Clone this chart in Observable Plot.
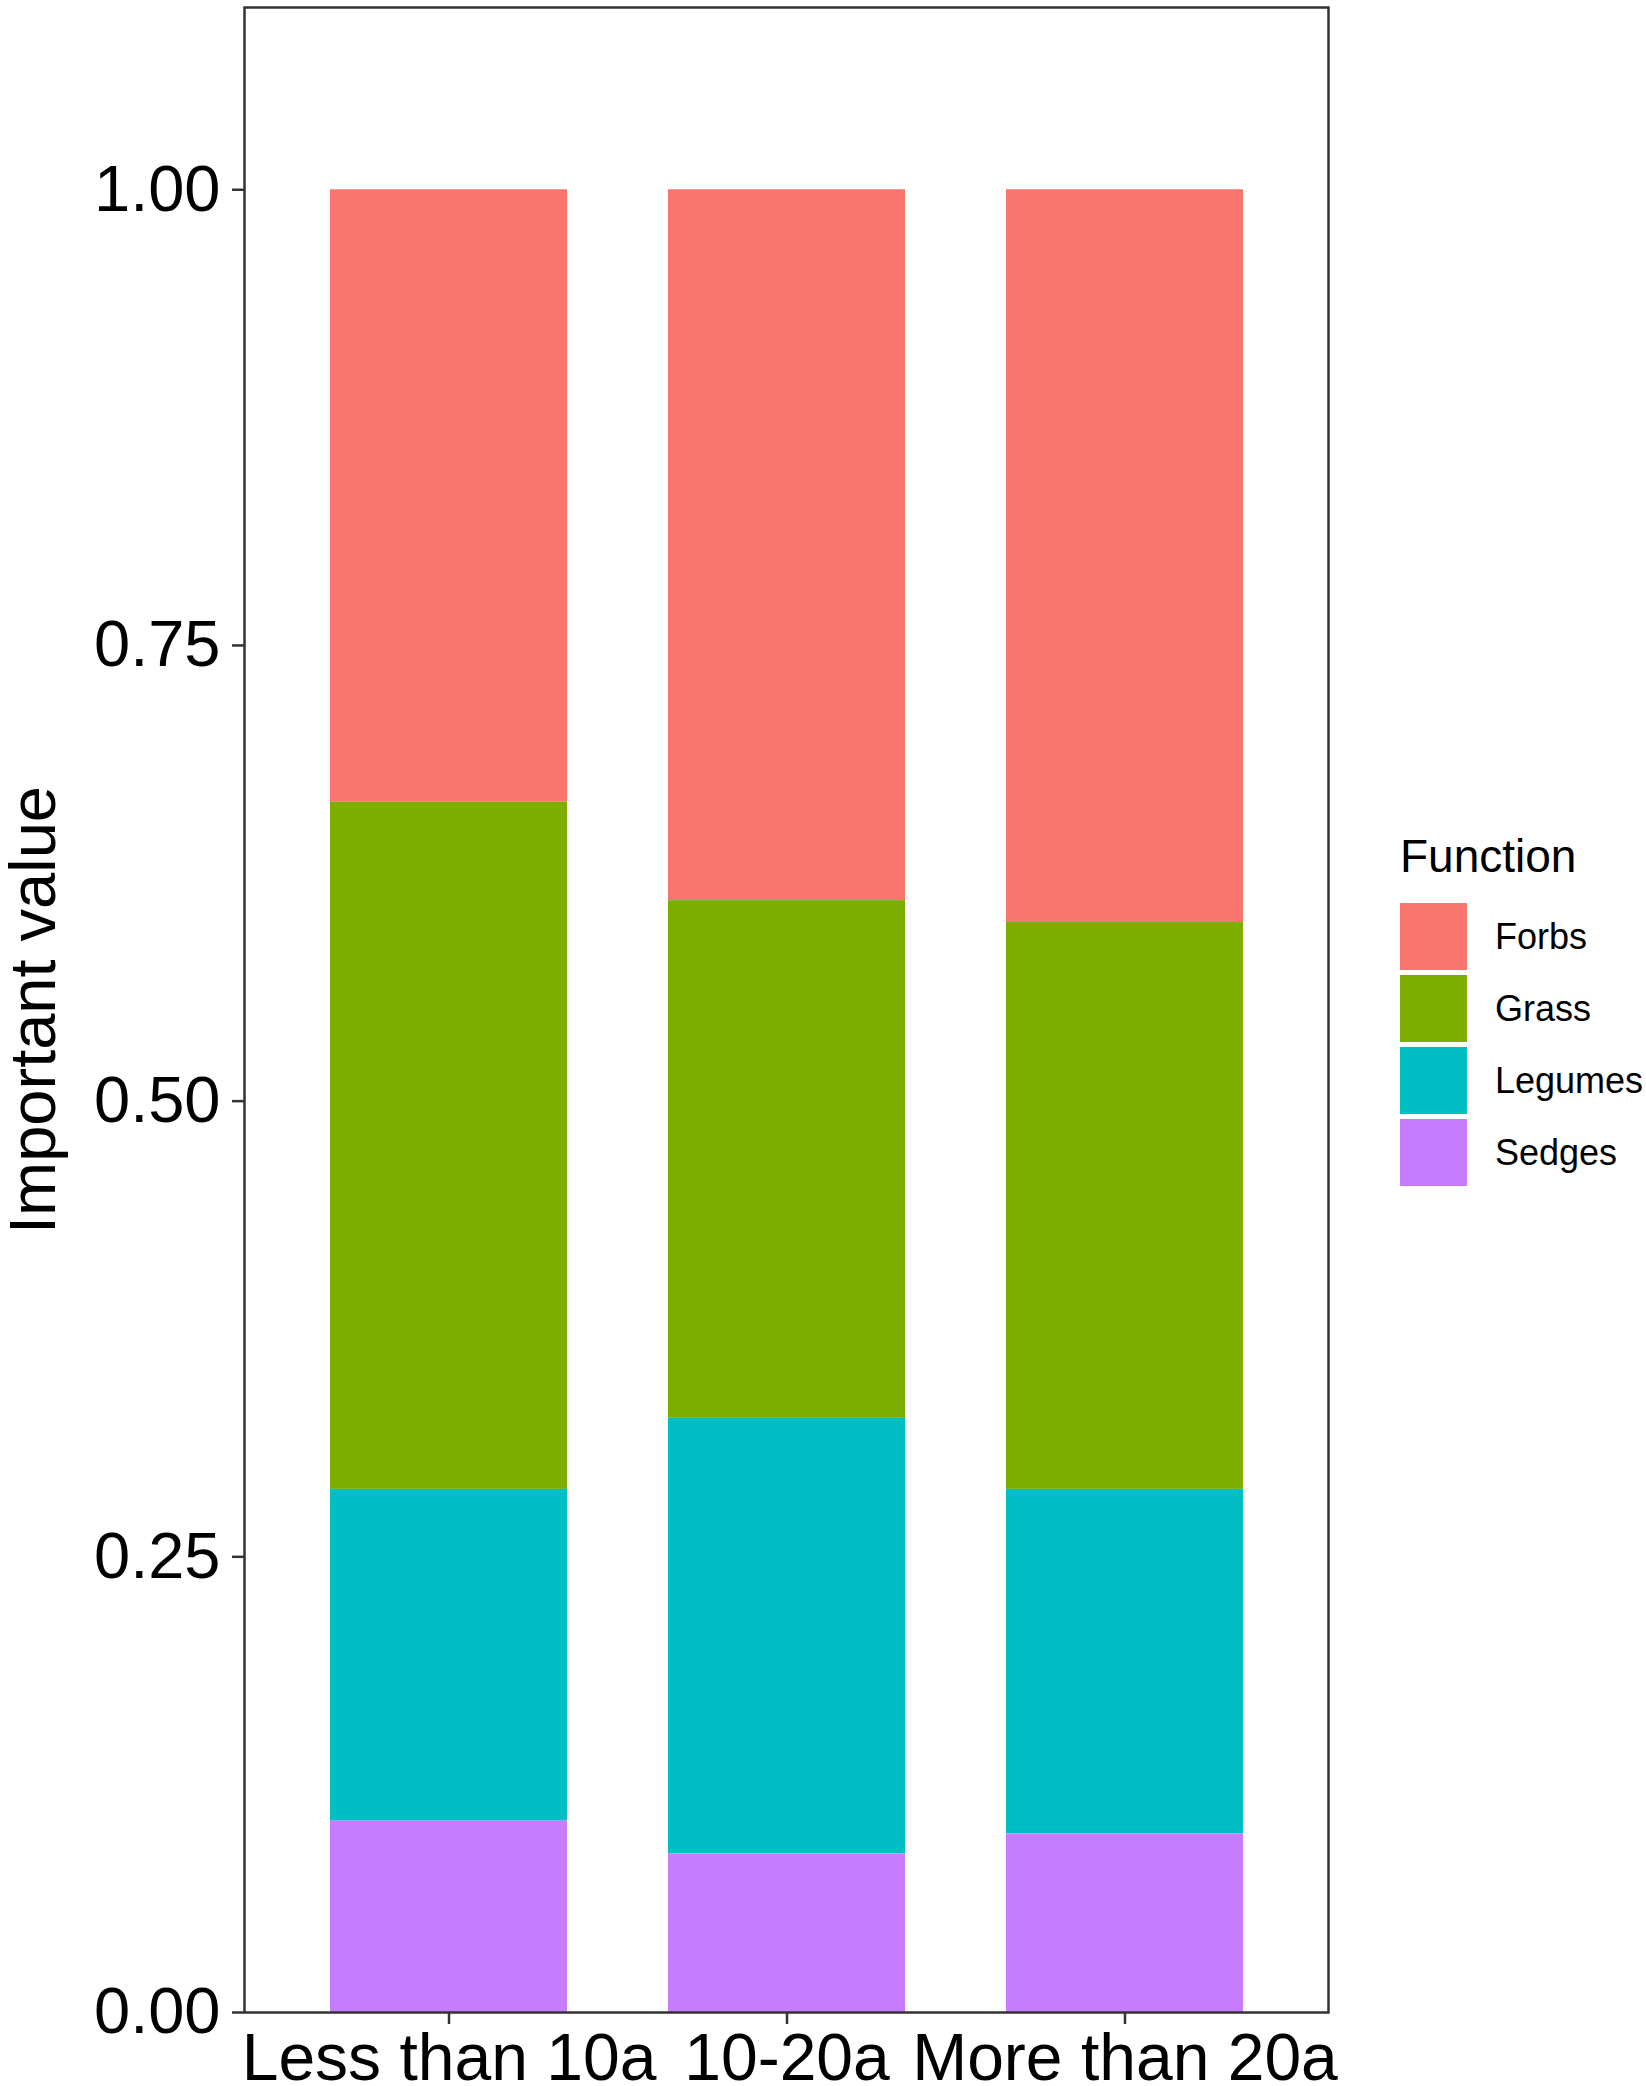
<!DOCTYPE html>
<html>
<head>
<meta charset="utf-8">
<script src="https://cdn.jsdelivr.net/npm/d3@7"></script>
<script src="https://cdn.jsdelivr.net/npm/@observablehq/plot@0.6"></script>
<style>
  html, body { margin: 0; padding: 0; background: #fff; }
  #wrap { position: relative; width: 1646px; height: 2086px; overflow: hidden; font-family: "Liberation Sans", Arial, sans-serif; color: #000; }
  #chart { position: absolute; left: 0; top: 0; }
  #legend-title { position: absolute; left: 1400px; top: 833px; font-size: 46px; line-height: 46px; }
  #legend-keys { position: absolute; left: 1400px; top: 903px; }
  .row { display: flex; align-items: center; height: 67px; margin-bottom: 5px; }
  .key { width: 67px; height: 67px; }
  .lab { margin-left: 28px; font-size: 36px; }
</style>
</head>
<body>
<div id="wrap">
  <div id="chart"></div>
  <div id="legend-title">Function</div>
  <div id="legend-keys"></div>
</div>
<script>
const categories = ["Less than 10a", "10-20a", "More than 20a"];
const groups = ["Forbs", "Grass", "Legumes", "Sedges"];
const stackOrder = ["Sedges", "Legumes", "Grass", "Forbs"];
const forbs   = [0.336, 0.390, 0.402];
const grass   = [0.377, 0.284, 0.311];
const legumes = [0.182, 0.239, 0.189];
const sedges  = [0.105, 0.087, 0.098];
const colors = ["#F8766D", "#7CAE00", "#00BFC4", "#C77CFF"];
const yTicks = [0, 0.25, 0.5, 0.75, 1];

const series = {Forbs: forbs, Grass: grass, Legumes: legumes, Sedges: sedges};
const data = [];
groups.forEach(g => categories.forEach((c, i) => data.push({age: c, group: g, value: series[g][i]})));

const chart = Plot.plot({
  width: 1646,
  height: 2086,
  marginLeft: 244,
  marginRight: 318,
  marginTop: 7,
  marginBottom: 74,
  style: {fontFamily: "Liberation Sans, Arial, sans-serif", color: "#000", background: "#fff"},
  x: {domain: categories, paddingInner: 0.3, paddingOuter: 0.25},
  y: {domain: [0, 1.1]},
  color: {domain: groups, range: colors},
  marks: [
    Plot.barY(data, Plot.stackY({x: "age", y: "value", fill: "group", order: stackOrder})),
    Plot.frame({stroke: "#333333", strokeWidth: 2.5}),
    Plot.axisX({tickSize: 12, tickPadding: 9, fontSize: 66, label: null, stroke: "#333333", strokeWidth: 2.5}),
    Plot.axisY({ticks: yTicks, tickFormat: d3.format(".2f"), tickSize: 12, tickPadding: 12, fontSize: 65,
      stroke: "#333333", strokeWidth: 2.5,
      label: "Important value", labelAnchor: "center", labelArrow: "none", labelOffset: 236})
  ]
});
document.getElementById("chart").appendChild(chart);

const keys = document.getElementById("legend-keys");
groups.forEach((g, i) => {
  const row = document.createElement("div");
  row.className = "row";
  const k = document.createElement("div");
  k.className = "key";
  k.style.background = colors[i];
  const l = document.createElement("div");
  l.className = "lab";
  l.textContent = g;
  row.appendChild(k);
  row.appendChild(l);
  keys.appendChild(row);
});
</script>
</body>
</html>
